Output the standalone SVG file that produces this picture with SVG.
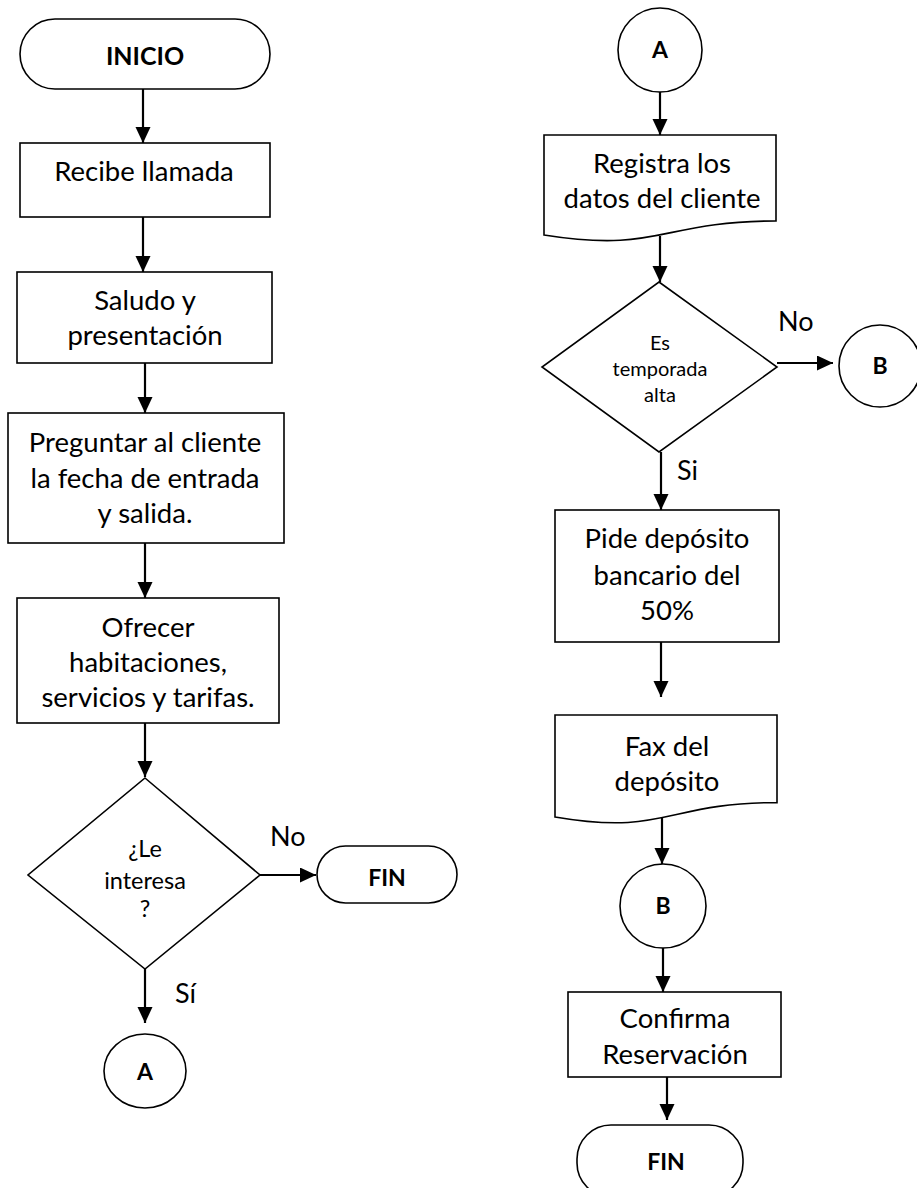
<svg xmlns="http://www.w3.org/2000/svg" width="917" height="1188" viewBox="0 0 917 1188">
  <style>
    .shape { fill: #ffffff; stroke: #000000; stroke-width: 1.6; }
    .conn { fill: none; stroke: #000000; stroke-width: 2.2; }
    .t { font-family: Lato, "Open Sans", "Liberation Sans", sans-serif; font-size: 27.5px; fill: #000000; text-anchor: middle; }
    .tb { font-family: Lato, "Open Sans", "Liberation Sans", sans-serif; font-size: 25px; font-weight: bold; fill: #000000; text-anchor: middle; }
    .tc { font-family: Lato, "Open Sans", "Liberation Sans", sans-serif; font-size: 23px; font-weight: bold; fill: #000000; text-anchor: middle; }
    .ts { font-family: Lato, "Open Sans", "Liberation Sans", sans-serif; font-size: 20px; fill: #000000; text-anchor: middle; }
    .tm { font-family: Lato, "Open Sans", "Liberation Sans", sans-serif; font-size: 23.5px; fill: #000000; text-anchor: middle; }
    .lbl { font-family: Lato, "Open Sans", "Liberation Sans", sans-serif; font-size: 27px; fill: #000000; }
  </style>
  <defs>
    <marker id="arrow" markerUnits="userSpaceOnUse" markerWidth="15" markerHeight="16" refX="16" refY="7.5" orient="auto">
      <path d="M0,0 L16,7.5 L0,15 Z" fill="#000000"/>
    </marker>
  </defs>
  <rect width="917" height="1188" fill="#ffffff"/>

  <!-- left column -->
  <g id="inicio">
    <rect class="shape" x="20" y="19" width="250" height="70" rx="35" ry="35"/>
    <text class="tb" x="145" y="65">INICIO</text>
  </g>
  <g id="recibe">
    <rect class="shape" x="20" y="143" width="250" height="74"/>
    <text class="t" x="144" y="181">Recibe llamada</text>
  </g>
  <g id="saludo">
    <rect class="shape" x="17" y="272" width="255" height="91"/>
    <text class="t" x="145" y="310">Saludo y</text>
    <text class="t" x="145" y="345">presentación</text>
  </g>
  <g id="preguntar">
    <rect class="shape" x="8" y="413" width="276" height="130"/>
    <text class="t" x="145" y="452">Preguntar al cliente</text>
    <text class="t" x="145" y="488">la fecha de entrada</text>
    <text class="t" x="145" y="523">y salida.</text>
  </g>
  <g id="ofrecer">
    <rect class="shape" x="17" y="598" width="262" height="125"/>
    <text class="t" x="148" y="637">Ofrecer</text>
    <text class="t" x="148" y="672">habitaciones,</text>
    <text class="t" x="148" y="707">servicios y tarifas.</text>
  </g>
  <g id="le-interesa">
    <polygon class="shape" points="145,778 260,875 145,969 28,875"/>
    <text class="tm" x="145" y="857">¿Le</text>
    <text class="tm" x="145" y="889">interesa</text>
    <text class="tm" x="145" y="917">?</text>
  </g>
  <g id="fin-1">
    <rect class="shape" x="317" y="846" width="140" height="57" rx="28.5" ry="28.5"/>
    <text class="tc" x="387" y="886">FIN</text>
  </g>
  <g id="conector-a-salida">
    <ellipse class="shape" cx="145" cy="1071" rx="41" ry="37"/>
    <text class="tc" x="145" y="1080">A</text>
  </g>

  <!-- right column -->
  <g id="conector-a-entrada">
    <circle class="shape" cx="660" cy="50" r="42"/>
    <text class="tc" x="660" y="58">A</text>
  </g>
  <g id="registra">
    <path class="shape" d="M544,135 H776 V221 C660,221 660,253.5 544,235 Z"/>
    <text class="t" x="662" y="173">Registra los</text>
    <text class="t" x="662" y="208">datos del cliente</text>
  </g>
  <g id="temporada-alta">
    <polygon class="shape" points="659,282 777,367 659,452 542,367"/>
    <text class="ts" x="660" y="350">Es</text>
    <text class="ts" x="660" y="376">temporada</text>
    <text class="ts" x="660" y="402">alta</text>
  </g>
  <g id="conector-b-salida">
    <circle class="shape" cx="880" cy="366" r="41"/>
    <text class="tc" x="880" y="374">B</text>
  </g>
  <g id="pide-deposito">
    <rect class="shape" x="555" y="510" width="224" height="132"/>
    <text class="t" x="667" y="548">Pide depósito</text>
    <text class="t" x="667" y="585">bancario del</text>
    <text class="t" x="667" y="620">50%</text>
  </g>
  <g id="fax">
    <path class="shape" d="M555,715 H777 V802.6 C666,802.6 666,836 555,817 Z"/>
    <text class="t" x="667" y="756">Fax del</text>
    <text class="t" x="667" y="791">depósito</text>
  </g>
  <g id="conector-b-entrada">
    <ellipse class="shape" cx="663" cy="906" rx="43" ry="42"/>
    <text class="tc" x="663" y="914">B</text>
  </g>
  <g id="confirma">
    <rect class="shape" x="568" y="992" width="213" height="85"/>
    <text class="t" x="675" y="1028">Confirma</text>
    <text class="t" x="675" y="1064">Reservación</text>
  </g>
  <g id="fin-2">
    <rect class="shape" x="577" y="1125" width="166" height="72" rx="34" ry="34"/>
    <text class="tc" x="666" y="1170">FIN</text>
  </g>

  <!-- connectors -->
  <g id="connectors">
    <line class="conn" x1="143" y1="89" x2="143" y2="143" marker-end="url(#arrow)"/>
    <line class="conn" x1="143" y1="217" x2="143" y2="272" marker-end="url(#arrow)"/>
    <line class="conn" x1="145" y1="363" x2="145" y2="413" marker-end="url(#arrow)"/>
    <line class="conn" x1="145" y1="543" x2="145" y2="598" marker-end="url(#arrow)"/>
    <line class="conn" x1="145" y1="723" x2="145" y2="777" marker-end="url(#arrow)"/>
    <line class="conn" x1="260" y1="875" x2="316" y2="875" marker-end="url(#arrow)"/>
    <line class="conn" x1="145" y1="969" x2="145" y2="1023" marker-end="url(#arrow)"/>
    <line class="conn" x1="660" y1="92" x2="660" y2="135" marker-end="url(#arrow)"/>
    <line class="conn" x1="660" y1="236" x2="660" y2="282" marker-end="url(#arrow)"/>
    <line class="conn" x1="777" y1="363" x2="833" y2="363" marker-end="url(#arrow)"/>
    <line class="conn" x1="661" y1="452" x2="661" y2="510" marker-end="url(#arrow)"/>
    <line class="conn" x1="661" y1="642" x2="661" y2="697" marker-end="url(#arrow)"/>
    <line class="conn" x1="662" y1="817" x2="662" y2="864" marker-end="url(#arrow)"/>
    <line class="conn" x1="663" y1="948" x2="663" y2="992" marker-end="url(#arrow)"/>
    <line class="conn" x1="667" y1="1077" x2="667" y2="1120" marker-end="url(#arrow)"/>
    <text class="lbl" x="270" y="846">No</text>
    <text class="lbl" x="175" y="1003">Sí</text>
    <text class="lbl" x="778" y="331">No</text>
    <text class="lbl" x="677" y="480">Si</text>
  </g>
</svg>
